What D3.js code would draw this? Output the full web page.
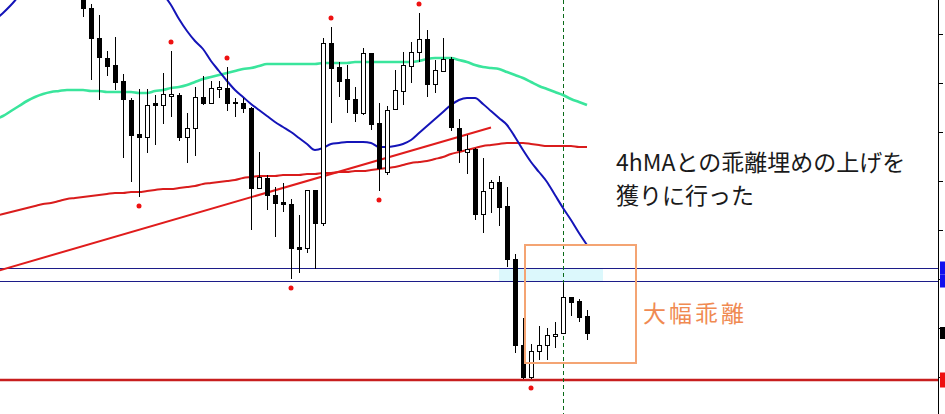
<!DOCTYPE html>
<html><head><meta charset="utf-8">
<script src="https://cdn.jsdelivr.net/npm/d3@7"></script>
<style>html,body{margin:0;padding:0;background:#fff;overflow:hidden}</style>
</head><body><svg id="chart" width="945" height="414"></svg>
<script>
// ---- candle data (bar index 0..63) ----
const opens  = [111.010,110.984,110.924,110.884,110.870,110.838,110.800,110.732,110.726,110.794,110.790,110.808,110.810,110.726,110.744,110.806,110.794,110.822,110.824,110.796,110.794,110.784,110.624,110.644,110.610,110.596,110.592,110.506,110.504,110.620,110.554,110.914,110.866,110.842,110.802,110.774,110.894,110.754,110.656,110.782,110.818,110.868,110.896,110.922,110.832,110.858,110.882,110.744,110.696,110.702,110.572,110.624,110.636,110.588,110.482,110.310,110.246,110.298,110.310,110.328,110.334,110.406,110.398,110.368];
const highs  = [111.020,110.992,110.970,110.898,110.926,110.852,110.804,110.822,110.822,110.810,110.854,110.898,110.814,110.774,110.826,110.848,110.838,110.838,110.866,110.804,110.804,110.786,110.696,110.650,110.626,110.634,110.602,110.570,110.620,110.620,110.924,110.946,110.876,110.870,110.826,110.904,110.894,110.794,110.788,110.860,110.896,110.916,110.974,110.940,110.880,110.924,110.886,110.762,110.730,110.704,110.684,110.640,110.648,110.626,110.492,110.364,110.312,110.348,110.344,110.356,110.434,110.406,110.402,110.380];
const lows   = [110.966,110.840,110.800,110.848,110.820,110.684,110.636,110.606,110.694,110.710,110.752,110.766,110.718,110.674,110.688,110.790,110.794,110.804,110.778,110.766,110.774,110.540,110.624,110.580,110.526,110.576,110.442,110.454,110.494,110.462,110.548,110.754,110.806,110.774,110.756,110.770,110.740,110.618,110.650,110.780,110.790,110.834,110.876,110.806,110.814,110.858,110.738,110.674,110.652,110.560,110.534,110.574,110.548,110.466,110.294,110.242,110.242,110.280,110.280,110.304,110.334,110.368,110.356,110.320];
const closes = [110.984,110.924,110.886,110.868,110.836,110.802,110.730,110.726,110.790,110.790,110.812,110.812,110.726,110.744,110.806,110.794,110.824,110.826,110.794,110.794,110.784,110.624,110.646,110.610,110.594,110.592,110.504,110.502,110.620,110.554,110.914,110.864,110.838,110.802,110.774,110.894,110.752,110.664,110.780,110.820,110.870,110.896,110.922,110.832,110.860,110.882,110.746,110.700,110.702,110.572,110.618,110.636,110.586,110.482,110.310,110.246,110.298,110.310,110.330,110.332,110.406,110.396,110.366,110.334];

// ---- moving averages (bar index -11..63) ----
const maStart = -11;
const maFast = [110.960,110.974,110.990,111.008,111.024,111.040,111.052,111.062,111.070,111.076,111.080,
  111.082,111.082,111.080,111.076,111.072,111.066,111.060,111.052,111.042,111.030,111.012,
  110.990,110.962,110.938,110.918,110.902,110.878,110.858,110.838,110.820,110.806,110.792,
  110.780,110.768,110.756,110.746,110.736,110.724,110.712,110.700,110.704,110.712,110.714,
  110.716,110.716,110.716,110.714,110.706,110.706,110.708,110.712,110.720,110.734,110.748,
  110.762,110.776,110.790,110.800,110.804,110.804,110.792,110.778,110.764,110.750,110.726,
  110.700,110.676,110.656,110.636,110.610,110.584,110.560,110.534,110.510];
const maMid = [110.762,110.768,110.778,110.788,110.798,110.806,110.812,110.816,110.818,110.820,110.820,
  110.820,110.818,110.818,110.816,110.816,110.816,110.816,110.814,110.814,110.818,110.820,
  110.824,110.826,110.830,110.836,110.842,110.846,110.850,110.854,110.858,110.862,110.864,
  110.868,110.872,110.872,110.872,110.872,110.872,110.872,110.872,110.874,110.874,110.874,
  110.874,110.876,110.876,110.876,110.876,110.876,110.876,110.876,110.876,110.878,110.882,
  110.884,110.884,110.884,110.880,110.876,110.870,110.866,110.864,110.862,110.856,110.850,
  110.844,110.836,110.828,110.822,110.816,110.810,110.802,110.796,110.790];
const maSlow = [110.568,110.572,110.576,110.580,110.584,110.588,110.592,110.594,110.598,110.602,110.604,
  110.606,110.608,110.610,110.612,110.614,110.614,110.616,110.616,110.618,110.620,110.622,
  110.622,110.624,110.626,110.628,110.632,110.634,110.636,110.638,110.640,110.644,110.646,
  110.648,110.648,110.648,110.650,110.650,110.650,110.652,110.652,110.654,110.654,110.656,
  110.656,110.658,110.658,110.660,110.662,110.664,110.666,110.670,110.674,110.676,110.678,
  110.682,110.686,110.692,110.696,110.700,110.704,110.708,110.710,110.712,110.714,110.714,
  110.714,110.712,110.710,110.708,110.708,110.708,110.708,110.706,110.706];

// ---- drawn objects ----
const trendIdx = [-12, 51];
const trendPrice = [110.452, 110.745];
const bandLevels = [110.464, 110.438];
const zoneIdx = [52, 65];
const supportLevel = 110.240;
const boxIdx = [55.25, 69.125];
const boxPrice = [110.510, 110.274];
const markerIdx = 60;
const fractalUp = [11, 18, 31, 42];
const fractalDown = [7, 26, 37, 56];
const tickVals = [110.932,110.834,110.736,110.638,110.540,110.442,110.344,110.246];
const noteLines = ["4hMAとの乖離埋めの上げを", "獲りに行った"];
const noteBox = "大幅乖離";

const W = 945, H = 414, axisX = 938;
const svg = d3.select("#chart");
const x = d3.scaleLinear().domain([0, 63]).range([83, 587]);
const y = d3.scaleLinear().domain([111.000, 110.172]).range([0, H]);

const plot = svg.append("g");
svg.append("defs").append("clipPath").attr("id","clip")
  .append("rect").attr("x",0).attr("y",0).attr("width",axisX).attr("height",H);
plot.attr("clip-path","url(#clip)");

// zone
plot.append("rect")
  .attr("x", x(zoneIdx[0])).attr("width", x(zoneIdx[1]) - x(zoneIdx[0]))
  .attr("y", y(bandLevels[0])).attr("height", y(bandLevels[1]) - y(bandLevels[0]))
  .attr("fill", "#dcf8fc");

// navy levels
plot.selectAll(".lvl").data(bandLevels).join("line")
  .attr("x1", 0).attr("x2", axisX)
  .attr("y1", d => Math.round(y(d)) + 0.5).attr("y2", d => Math.round(y(d)) + 0.5)
  .attr("stroke", "#1c1c88").attr("stroke-width", 1);

// support line
plot.append("line").attr("x1",0).attr("x2",axisX)
  .attr("y1", y(supportLevel)).attr("y2", y(supportLevel))
  .attr("stroke","#c81e1e").attr("stroke-width",2.5);

// dashed vertical
plot.append("line").attr("x1", x(markerIdx)+0.5).attr("x2", x(markerIdx)+0.5)
  .attr("y1",0).attr("y2",H).attr("stroke","#0a6a1a").attr("stroke-width",1)
  .attr("stroke-dasharray","4,3");

// MAs
const maLine = d3.line().x((d,i) => x(i + maStart)).y(d => y(d)).curve(d3.curveMonotoneX);
plot.append("path").datum(maMid).attr("d", maLine).attr("fill","none")
  .attr("stroke","#3ae59c").attr("stroke-width",2.6);
plot.append("path").datum(maSlow).attr("d", maLine).attr("fill","none")
  .attr("stroke","#d91c1c").attr("stroke-width",2);
plot.append("path").datum(maFast).attr("d", maLine).attr("fill","none")
  .attr("stroke","#1414b8").attr("stroke-width",2);

// trendline
plot.append("line")
  .attr("x1", x(trendIdx[0])).attr("y1", y(trendPrice[0]))
  .attr("x2", x(trendIdx[1])).attr("y2", y(trendPrice[1]))
  .attr("stroke","#e01c1c").attr("stroke-width",2);

// candles
const bars = d3.range(opens.length);
const cg = plot.append("g");
cg.selectAll(".wick").data(bars).join("line")
  .attr("x1", i => x(i)+0.5).attr("x2", i => x(i)+0.5)
  .attr("y1", i => y(highs[i])).attr("y2", i => y(lows[i]))
  .attr("stroke","#000").attr("stroke-width",1);
cg.selectAll(".body").data(bars).join("rect")
  .attr("x", i => x(i) - 1.5).attr("width", 4)
  .attr("y", i => Math.round(y(Math.max(opens[i], closes[i]))) + 0.5)
  .attr("height", i => Math.max(1, Math.round(Math.abs(y(opens[i]) - y(closes[i])))))
  .attr("fill", i => closes[i] >= opens[i] ? "#fff" : "#000")
  .attr("stroke","#000").attr("stroke-width",1);

// fractals
plot.selectAll(".fu").data(fractalUp).join("circle")
  .attr("cx", i => x(i)).attr("cy", i => y(highs[i]) - 9).attr("r", 2.5).attr("fill","#ee1111");
plot.selectAll(".fd").data(fractalDown).join("circle")
  .attr("cx", i => x(i)).attr("cy", i => y(lows[i]) + 9).attr("r", 2.5).attr("fill","#ee1111");

// orange box
plot.append("rect")
  .attr("x", x(boxIdx[0])).attr("y", y(boxPrice[0]))
  .attr("width", x(boxIdx[1]) - x(boxIdx[0])).attr("height", y(boxPrice[1]) - y(boxPrice[0]))
  .attr("fill","none").attr("stroke","#f4a473").attr("stroke-width",2);

// texts
svg.append("text").attr("x", 643).attr("y", 322).text(noteBox)
  .attr("font-family","'Noto Sans CJK JP'").attr("font-size",23).attr("letter-spacing",3)
  .attr("fill","#f08a52");
svg.selectAll(".note").data(noteLines).join("text")
  .attr("x", 616).attr("y", (d,i) => 171 + i*33).text(d => d)
  .attr("font-family","'Noto Sans CJK JP'").attr("font-size",23).attr("fill","#1a1a1a");

// right axis
const ax = svg.append("g").attr("transform", `translate(${axisX},0)`)
  .call(d3.axisRight(y).tickValues(tickVals).tickSize(5).tickFormat(d3.format(".3f")));
ax.select(".domain").remove();
ax.selectAll("text").remove();
ax.selectAll("line").attr("stroke","#000");
svg.append("line").attr("x1",axisX+0.5).attr("x2",axisX+0.5).attr("y1",0).attr("y2",H)
  .attr("stroke","#000").attr("stroke-width",1);

// price markers
const markers = [
  {p: bandLevels[0], c: "#1010ee", h: 13},
  {p: bandLevels[1], c: "#1010ee", h: 13},
  {p: closes[closes.length-1], c: "#000", h: 12},
  {p: supportLevel, c: "#ee1010", h: 15}
];
svg.selectAll(".mk").data(markers).join("rect")
  .attr("x", axisX + 2).attr("width", 8)
  .attr("y", d => y(d.p) - d.h/2).attr("height", d => d.h)
  .attr("fill", d => d.c);
</script></body></html>
